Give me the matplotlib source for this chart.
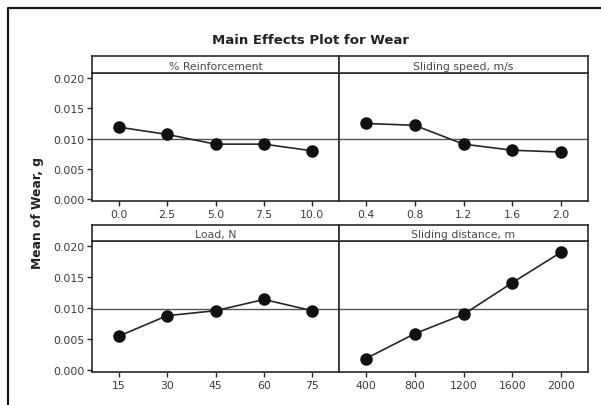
import matplotlib
matplotlib.use("Agg")
import matplotlib.pyplot as plt
from matplotlib.lines import Line2D

# ---- data ----
factor_names = ["% Reinforcement", "Sliding speed, m/s", "Load, N", "Sliding distance, m"]
levels_reinf = ["0.0", "2.5", "5.0", "7.5", "10.0"]
levels_speed = ["0.4", "0.8", "1.2", "1.6", "2.0"]
levels_load = ["15", "30", "45", "60", "75"]
levels_dist = ["400", "800", "1200", "1600", "2000"]
mean_reinf = [0.0119, 0.0107, 0.0091, 0.0091, 0.0080]
mean_speed = [0.0125, 0.0122, 0.0091, 0.0081, 0.0078]
mean_load = [0.0055, 0.0088, 0.0096, 0.0114, 0.0096]
mean_dist = [0.0019, 0.0059, 0.0090, 0.0141, 0.0190]
grand_mean = 0.0099
y_ticks = [0.000, 0.005, 0.010, 0.015, 0.020]
y_ticklabels = ["0.000", "0.005", "0.010", "0.015", "0.020"]

panels = [
    (factor_names[0], levels_reinf, mean_reinf),
    (factor_names[1], levels_speed, mean_speed),
    (factor_names[2], levels_load, mean_load),
    (factor_names[3], levels_dist, mean_dist),
]

W, H = 601, 406
fig = plt.figure(figsize=(W / 100, H / 100), dpi=100)
fig.patch.set_facecolor("white")

def fx(px):
    return px / W

def fy(py):
    return 1 - py / H

edge = "#2a2a2a"
txt = "#3a3a3a"

# panel geometry in pixels: (x0, x1), (strip_top, data_top, data_bottom)
cols = [(92, 339), (339, 588)]
rows = [(57, 74, 202), (226, 242, 373)]

for i, (name, labels, vals) in enumerate(panels):
    r, c = divmod(i, 2)
    x0, x1 = cols[c]
    st, dt, db = rows[r]
    ax = fig.add_axes([fx(x0), fy(db), (x1 - x0) / W, (db - dt) / H])
    sax = fig.add_axes([fx(x0), fy(dt), (x1 - x0) / W, (dt - st) / H])
    sax.set_xticks([])
    sax.set_yticks([])
    for s in sax.spines.values():
        s.set_linewidth(1.2)
        s.set_color(edge)
    sax.text(0.5, 0.42, name, ha="center", va="center", fontsize=7.8,
             color="#4a4a4a", transform=sax.transAxes)

    xs = list(range(1, len(vals) + 1))
    ax.axhline(grand_mean, color="#555555", lw=1.0, zorder=1)
    ax.plot(xs, vals, color="#262626", lw=1.2, marker="o", markersize=8,
            markerfacecolor="#111111", markeredgecolor="#111111", zorder=3)
    ax.set_xlim(0.45, 5.55)
    ax.set_ylim(-0.00025, 0.0208)
    ax.set_xticks(xs)
    ax.set_xticklabels(labels)
    ax.tick_params(axis="x", direction="out", length=3.5, width=1.0,
                   colors=edge, labelcolor=txt, labelsize=7.8, pad=2.5)
    ax.set_yticks(y_ticks)
    if c == 0:
        ax.set_yticklabels(y_ticklabels)
        ax.tick_params(axis="y", direction="out", length=3.5, width=1.0,
                       colors=edge, labelcolor=txt, labelsize=7.8, pad=2)
    else:
        ax.tick_params(axis="y", left=False, labelleft=False)
    for s in ax.spines.values():
        s.set_linewidth(1.2)
        s.set_color(edge)

fig.text(fx(310), fy(40), "Main Effects Plot for Wear", ha="center", va="center",
         fontsize=9.5, fontweight="bold", color="#222222")
fig.text(fx(38), fy(213), "Mean of Wear, g", ha="center", va="center",
         rotation=90, fontsize=8.8, fontweight="bold", color="#222222")

# outer frame (left and top edges)
fig.add_artist(Line2D([fx(8), fx(8), 1.0], [0.0, fy(9), fy(9)],
                      transform=fig.transFigure, color="#1a1a1a", lw=1.6))

fig.savefig("out.png", dpi=100)
